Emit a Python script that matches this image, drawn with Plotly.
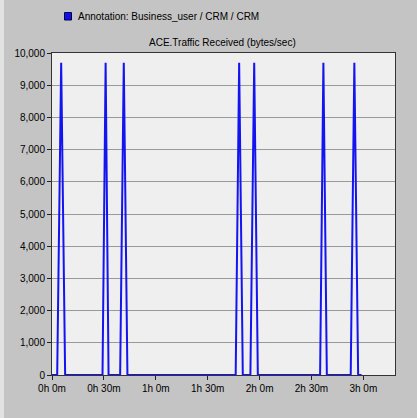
import plotly.graph_objects as go

# data (minutes since start, bytes/sec)
times_min = [0, 3.0, 5.3, 7.6, 29.2, 31.0, 32.7, 39.4, 41.5, 43.6,
             106.2, 108.2, 110.3, 114.7, 116.9, 119.0,
             155.0, 156.9, 158.9, 172.7, 174.8, 177.0, 179.0]
traffic = [0, 0, 9700, 0, 0, 9700, 0, 0, 9700, 0,
           0, 9700, 0, 0, 9700, 0,
           0, 9700, 0, 0, 9700, 0, 0]
x_tick_vals = [0, 30, 60, 90, 120, 150, 180]
x_tick_text = ["0h 0m", "0h 30m", "1h 0m", "1h 30m", "2h 0m", "2h 30m", "3h 0m"]
y_tick_vals = [0, 1000, 2000, 3000, 4000, 5000, 6000, 7000, 8000, 9000, 10000]
y_tick_text = ["0", "1,000", "2,000", "3,000", "4,000", "5,000", "6,000",
               "7,000", "8,000", "9,000", "10,000"]
series_name = "Annotation: Business_user / CRM / CRM"
chart_title = "ACE.Traffic Received (bytes/sec)"

FONT = "Liberation Sans, Arial, sans-serif"

fig = go.Figure()
fig.add_trace(go.Scatter(x=times_min, y=traffic, mode="lines",
                         line=dict(color="#1414f0", width=2),
                         name=series_name, showlegend=False))

W, H = 417, 418
L, R, T, B = 52, 22, 53, 43
pw, ph = W - L - R, H - T - B

def px(x):
    return (x - L) / pw

def py(y):
    return (H - B - y) / ph

fig.update_layout(
    width=W, height=H,
    margin=dict(l=L, r=R, t=T, b=B),
    paper_bgcolor="#c4c4c4",
    plot_bgcolor="#efefef",
    font=dict(family=FONT, size=10, color="#000000"),
    xaxis=dict(range=[0, 198.3], tickvals=x_tick_vals, ticktext=x_tick_text,
               ticks="outside", ticklen=4, tickcolor="#222222",
               showgrid=False, zeroline=False, showline=True,
               linecolor="#333333", linewidth=1, mirror=True,
               tickfont=dict(size=10)),
    yaxis=dict(range=[0, 10000], tickvals=y_tick_vals, ticktext=y_tick_text,
               ticks="outside", ticklen=4, tickcolor="#222222",
               showgrid=True, gridcolor="#999999", gridwidth=1,
               zeroline=False, showline=True,
               linecolor="#333333", linewidth=1, mirror=True,
               tickfont=dict(size=10)),
    shapes=[
        dict(type="rect", xref="paper", yref="paper",
             x0=px(0), x1=px(4), y0=py(H), y1=py(0),
             fillcolor="#e2e2e2", line=dict(width=0), layer="below"),
        dict(type="rect", xref="paper", yref="paper",
             x0=px(64.5), x1=px(71.5), y0=py(20), y1=py(12.5),
             fillcolor="#1010e0", line=dict(color="#000050", width=1)),
    ],
    annotations=[
        dict(text=series_name, xref="paper", yref="paper",
             x=px(76), y=py(16.5), xanchor="left", yanchor="middle",
             showarrow=False, font=dict(size=10)),
        dict(text=chart_title, xref="paper", yref="paper",
             x=px(222), y=py(42), xanchor="center", yanchor="middle",
             showarrow=False, font=dict(size=10)),
    ],
)

fig.write_html("out.html",
               config={"displayModeBar": False},
               post_script="document.body.style.margin='0';document.body.style.padding='0';")
